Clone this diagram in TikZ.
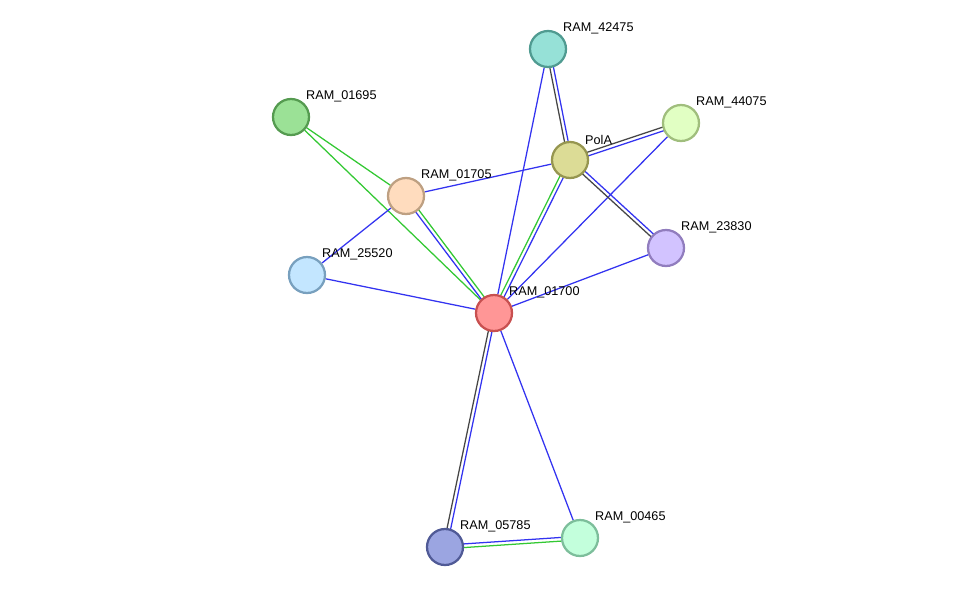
\documentclass[tikz,border=0pt]{standalone}
\usepackage{fontspec}
\setmainfont{Liberation Sans}
\usetikzlibrary{calc, backgrounds}
\definecolor{edgeblue}{RGB}{51,51,240}
\definecolor{edgegreen}{RGB}{51,200,51}
\definecolor{edgedark}{RGB}{70,70,70}

\tikzset{
    prot/.style={circle, minimum size=36*0.025cm, inner sep=0pt, line width=1.6pt},
    lbl/.style={font=\fontsize{9}{10}\selectfont, inner sep=1pt},
    edge/.style={line width=0.9pt}
}
% two coloured lines side by side
\newcommand{\duo}[4]{%
    \draw[edge,#3] ($(#1)!1.3pt!90:(#2)$) -- ($(#2)!1.3pt!-90:(#1)$);
    \draw[edge,#4] ($(#1)!1.3pt!-90:(#2)$) -- ($(#2)!1.3pt!90:(#1)$);
}

\begin{document}
\begin{tikzpicture}[x=0.025cm, y=-0.025cm]
    \useasboundingbox (0,0) rectangle (976,593);

    % Proteins
    \node[prot, fill={rgb,255:red,150;green,225;blue,215}, draw={rgb,255:red,80;green,155;blue,145}, label={[lbl]45:RAM\_42475}] (p42475) at (548,49) {};
    \node[prot, fill={rgb,255:red,155;green,225;blue,150}, draw={rgb,255:red,85;green,155;blue,80}, label={[lbl]45:RAM\_01695}] (p01695) at (291,117) {};
    \node[prot, fill={rgb,255:red,225;green,255;blue,195}, draw={rgb,255:red,160;green,190;blue,125}, label={[lbl]45:RAM\_44075}] (p44075) at (681,123) {};
    \node[prot, fill={rgb,255:red,220;green,220;blue,150}, draw={rgb,255:red,150;green,150;blue,80}, label={[lbl]45:PolA}] (pPolA) at (570,160) {};
    \node[prot, fill={rgb,255:red,255;green,220;blue,190}, draw={rgb,255:red,190;green,160;blue,130}, label={[lbl]45:RAM\_01705}] (p01705) at (406,196) {};
    \node[prot, fill={rgb,255:red,210;green,195;blue,255}, draw={rgb,255:red,145;green,125;blue,190}, label={[lbl]45:RAM\_23830}] (p23830) at (666,248) {};
    \node[prot, fill={rgb,255:red,195;green,230;blue,255}, draw={rgb,255:red,120;green,160;blue,190}, label={[lbl]45:RAM\_25520}] (p25520) at (307,275) {};
    \node[prot, fill={rgb,255:red,255;green,150;blue,150}, draw={rgb,255:red,200;green,80;blue,80}, label={[lbl]45:RAM\_01700}] (p01700) at (494,313) {};
    \node[prot, fill={rgb,255:red,155;green,165;blue,225}, draw={rgb,255:red,80;green,90;blue,150}, label={[lbl]45:RAM\_05785}] (p05785) at (445,547) {};
    \node[prot, fill={rgb,255:red,195;green,255;blue,220}, draw={rgb,255:red,125;green,190;blue,155}, label={[lbl]45:RAM\_00465}] (p00465) at (580,538) {};

    % Interactions
    \begin{scope}[on background layer]
        \draw[edge, edgegreen] (p01695) -- (p01700);
        \draw[edge, edgegreen] (p01695) -- (p01705);
        \draw[edge, edgeblue] (p01705) -- (p25520);
        \draw[edge, edgeblue] (p01705) -- (pPolA);
        \draw[edge, edgeblue] (p25520) -- (p01700);
        \draw[edge, edgeblue] (p42475) -- (p01700);
        \draw[edge, edgeblue] (p44075) -- (p01700);
        \draw[edge, edgeblue] (p23830) -- (p01700);
        \draw[edge, edgeblue] (p01700) -- (p00465);
        \duo{p01705}{p01700}{edgegreen}{edgeblue}
        \duo{p42475}{pPolA}{edgeblue}{edgedark}
        \duo{pPolA}{p01700}{edgeblue}{edgegreen}
        \duo{pPolA}{p44075}{edgedark}{edgeblue}
        \duo{pPolA}{p23830}{edgeblue}{edgedark}
        \duo{p01700}{p05785}{edgeblue}{edgedark}
        \duo{p05785}{p00465}{edgeblue}{edgegreen}
    \end{scope}
\end{tikzpicture}
\end{document}
